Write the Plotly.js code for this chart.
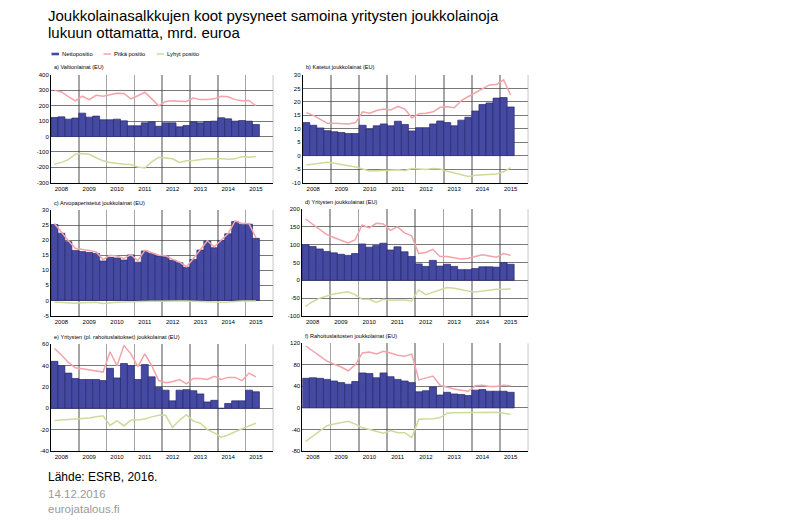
<!DOCTYPE html>
<html><head><meta charset="utf-8">
<script src="https://cdn.plot.ly/plotly-3.0.1.min.js"></script>
<style>html,body{margin:0;padding:0;background:#fff}#c{width:800px;height:522px}</style>
</head><body><div id="c"></div>
<script>
const quarters = ['2008Q1','2008Q2','2008Q3','2008Q4','2009Q1','2009Q2','2009Q3','2009Q4',
  '2010Q1','2010Q2','2010Q3','2010Q4','2011Q1','2011Q2','2011Q3','2011Q4',
  '2012Q1','2012Q2','2012Q3','2012Q4','2013Q1','2013Q2','2013Q3','2013Q4',
  '2014Q1','2014Q2','2014Q3','2014Q4','2015Q1','2015Q2'];
const yearLabels = ['2008','2009','2010','2011','2012','2013','2014','2015'];
const seriesNames = ['Nettopositio','Pitkä positio','Lyhyt positio'];
const panelTitles = ['a) Valtionlainat (EU)','b) Katetut joukkolainat (EU)',
  'c) Arvopaperistetut joukkolainat (EU)','d) Yritysten joukkolainat (EU)',
  'e) Yritysten (pl. rahoituslaitokset) joukkolainat (EU)','f) Rahoituslaitosten joukkolainat (EU)'];

const netA = [124,128,113,120,152,126,133,109,109,113,102,70,70,89,96,67,89,89,63,72,96,89,98,100,122,115,100,104,100,78];
const longA = [300,290,260,232,262,240,268,262,272,282,280,245,265,288,245,200,228,232,230,228,250,240,240,245,262,258,240,233,235,200];
const shortA = [-180,-168,-150,-115,-110,-115,-138,-158,-168,-175,-180,-182,-198,-205,-165,-135,-140,-145,-168,-158,-155,-150,-145,-145,-142,-148,-145,-130,-135,-130];

const netB = [12.3,11.3,10.3,9.3,8.9,8.6,8.2,8.2,11.3,9.9,11.1,11.8,11.1,12.8,11.6,9.2,10.4,10.4,11.8,12.9,12.3,11.1,13.2,14.3,16.6,19.0,19.6,21.4,21.6,18.1];
const longB = [16,15,13.5,12,12,11.8,11.8,12.3,16.3,15.8,16.8,17.3,17.0,18.3,17.3,14,15.6,15.8,16.3,18,18.2,17.8,20.5,22,23.5,24.8,26.3,26.5,28.2,22.5];
const shortB = [-3.5,-3.2,-2.8,-2.5,-2.8,-3.2,-3.6,-4.2,-5.0,-5.7,-5.6,-5.5,-5.5,-5.3,-5.5,-4.8,-5.0,-5.2,-4.8,-5.0,-5.8,-6.5,-7.2,-7.8,-7.3,-7.2,-7.0,-6.8,-6.0,-4.5];

const netC = [25.2,22.3,19.5,16.6,16.2,15.9,15.6,13.1,14.3,14.1,13.4,15.1,12.7,16.4,15.6,14.7,14.5,13.3,12.5,11.0,13.6,16.7,19.7,17.5,19.9,22.1,26.2,25.3,25.3,20.6];
const longC = [25.5,22.6,19.8,17.3,17.0,16.6,16.1,13.5,15.0,14.7,13.9,15.2,13.2,16.6,15.8,15.0,14.8,13.6,12.7,11.2,13.9,16.9,19.8,17.8,20.0,22.2,26.4,25.5,25.5,20.8];
const shortC = [-0.5,-0.7,-0.8,-0.9,-0.8,-0.7,-0.6,-1.0,-0.7,-0.6,-0.5,-0.4,-0.4,-0.3,-0.3,-0.3,-0.2,-0.2,-0.2,-0.2,-0.3,-0.5,-0.6,-0.7,-0.6,-0.5,-0.3,-0.2,-0.2,-0.2];

const netD = [100,95,88,81,77,73,70,75,102,93,98,104,85,94,80,67,46,39,56,40,45,39,30,30,33,38,38,37,50,45];
const longD = [172,158,143,128,120,113,105,113,155,147,160,158,140,150,133,125,75,78,87,67,67,63,60,62,67,72,68,65,75,70];
const shortD = [-73,-60,-50,-43,-38,-35,-32,-40,-53,-53,-62,-53,-56,-55,-55,-58,-27,-40,-33,-25,-20,-22,-27,-30,-33,-30,-28,-25,-25,-24];

const netE = [44,40,33,28,27,27,27,26,37.5,28.5,42,40,27,41,29.5,19.5,17,7,17,17.5,16.5,13.5,6,7.5,0,4.5,7,7,17,15.5];
const longE = [56,50,43,38,37,36,35,34,53,40,59,51,39,51,40,26,24,25,27,23,28,28,27,30,27,29,29,26,33,29.5];
const shortE = [-11.5,-11,-10.5,-10,-10,-9,-8,-7,-16,-11.5,-16.5,-11,-11,-10,-8,-6.5,-6.5,-18,-11,-6,-12,-14,-20,-23,-27,-25,-22,-19,-16.5,-14];

const netF = [55,56,55,53,50,47,44,49,65,64,56,65,58,53,50,47,30,32,39,24,29,26,25,23,33,34,31,31,31,29];
const longF = [115,106,96,87,81,76,69,80,102,104,100,105,102,98,96,100,52,55,59,42,38,35,33,31,41,42,40,40,42,41];
const shortF = [-62,-52,-42,-33,-30,-27,-25,-30,-37,-40,-44,-47,-42,-46,-46,-55,-21,-21,-20,-18,-10,-9,-9,-9,-8,-8,-8,-8,-10,-12];

const yRanges = [[-300,400],[-10,30],[-5,30],[-100,200],[-40,60],[-80,120]];
const yDticks = [100,5,5,50,20,40];

const panels = [
  {net:netA, lng:longA, sht:shortA, box:[51,273.3,75,182.7]},
  {net:netB, lng:longB, sht:shortB, box:[302.7,528.3,75,182.5]},
  {net:netC, lng:longC, sht:shortC, box:[51,273.3,210,315.5]},
  {net:netD, lng:longD, sht:shortD, box:[302,528.3,209,316]},
  {net:netE, lng:longE, sht:shortE, box:[51,273.3,344.3,451]},
  {net:netF, lng:longF, sht:shortF, box:[302.3,528.3,343.3,451]}
];

const W = 800, H = 522;
const px = v => v / W, py = v => 1 - v / H;
const xs = quarters.map(q => parseInt(q.slice(0,4)) + (parseInt(q.slice(5)) - 0.5) / 4);
const yearNums = yearLabels.map(Number);

const FONT = 'Liberation Sans, Arial, sans-serif';
const navy = '#4549A2', pink = '#F4A3AA', green = '#CBDC9C';

const traces = [], layout = {
  width: W, height: H, margin:{l:0,r:0,t:0,b:0},
  paper_bgcolor:'#fff', plot_bgcolor:'#fff', showlegend:false,
  font:{family:FONT, color:'#000'}, shapes:[], annotations:[]
};

panels.forEach((p, i) => {
  const n = i === 0 ? '' : String(i + 1);
  const xa = 'x' + n, ya = 'y' + n;
  traces.push({type:'bar', x:xs, y:p.net, width:0.25, name:seriesNames[0], xaxis:xa, yaxis:ya,
    marker:{color:navy, line:{color:'#26296C', width:0.7}}});
  traces.push({type:'scatter', mode:'lines', x:xs, y:p.lng, name:seriesNames[1], xaxis:xa, yaxis:ya,
    line:{color:pink, width:1.5}});
  traces.push({type:'scatter', mode:'lines', x:xs, y:p.sht, name:seriesNames[2], xaxis:xa, yaxis:ya,
    line:{color:green, width:1.5}});
  const [x0,x1,y0,y1] = p.box;
  const [lo, hi] = yRanges[i];
  const tv = [];
  for (let v = lo; v <= hi + 1e-9; v += yDticks[i]) tv.push(v);
  layout['xaxis' + n] = {
    domain:[px(x0), px(x1)], anchor:ya, range:[2008, 2016],
    tickmode:'array', tickvals:yearNums.map(v => v + 0.375), ticktext:yearLabels,
    showgrid:false, ticks:'', tickfont:{size:6, family:FONT}, showline:true, linecolor:'#000', linewidth:1,
    minor:{tick0:2008, dtick:1, showgrid:true, gridcolor:'#A6A6A6', gridwidth:1.6, ticks:''},
    zeroline:false, fixedrange:true
  };
  layout['yaxis' + n] = {
    domain:[py(y1), py(y0)], anchor:xa, range:[lo, hi],
    tickmode:'array', tickvals:tv, ticktext:tv.map(v => String(v)),
    showgrid:true, gridcolor:'#404040', gridwidth:0.7, zeroline:false,
    showline:true, linecolor:'#000', linewidth:1, ticks:'',
    tickfont:{size:6, family:FONT}, fixedrange:true
  };
  layout.shapes.push({type:'line', xref:xa, yref:ya + ' domain', x0:2016, x1:2016, y0:0, y1:1,
    line:{color:'#808080', width:1}});
  layout.annotations.push({xref:'paper', yref:'paper', x:px(x0 + 1), y:py(y0 - 7.5),
    xanchor:'left', yanchor:'middle', showarrow:false, text:panelTitles[i],
    font:{size:5.6, family:FONT, color:'#000'}});
});

// legend
layout.shapes.push({type:'rect', xref:'paper', yref:'paper', x0:px(51.5), x1:px(59), y0:py(55.3), y1:py(52.7),
  fillcolor:navy, line:{width:0}});
layout.shapes.push({type:'line', xref:'paper', yref:'paper', x0:px(103.5), x1:px(111), y0:py(54), y1:py(54),
  line:{color:pink, width:1.5}});
layout.shapes.push({type:'line', xref:'paper', yref:'paper', x0:px(156.5), x1:px(164), y0:py(54), y1:py(54),
  line:{color:green, width:1.5}});
[[59.5, seriesNames[0]],[111.5, seriesNames[1]],[164.5, seriesNames[2]]].forEach(([x,t]) => {
  layout.annotations.push({xref:'paper', yref:'paper', x:px(x), y:py(54), xanchor:'left', yanchor:'middle',
    showarrow:false, text:t, font:{size:5.8, family:FONT, color:'#000'}});
});

// titles and footer
const txt = (x, y, t, size, color) => layout.annotations.push({xref:'paper', yref:'paper', x:px(x), y:py(y),
  xanchor:'left', yanchor:'middle', showarrow:false, text:t, font:{size:size, family:FONT, color:color}});
txt(46, 15, 'Joukkolainasalkkujen koot pysyneet samoina yritysten joukkolainoja', 15, '#000');
txt(46, 33, 'lukuun ottamatta, mrd. euroa', 15, '#000');
txt(46, 477, 'Lähde: ESRB, 2016.', 12, '#000');
txt(46, 494, '14.12.2016', 11.5, '#9A9A9A');
txt(46, 509, 'eurojatalous.fi', 11.5, '#9A9A9A');

Plotly.newPlot('c', traces, layout, {staticPlot:true, displayModeBar:false});
</script>
</body></html>
